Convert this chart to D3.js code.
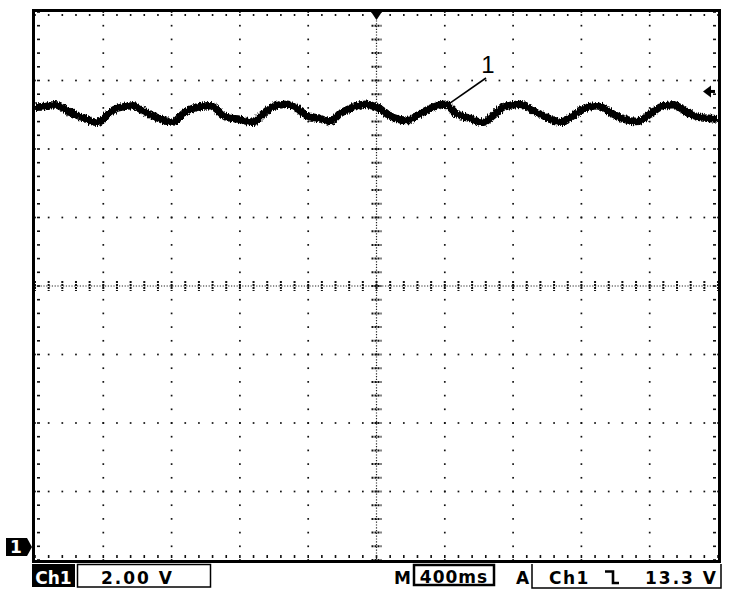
<!DOCTYPE html>
<html>
<head>
<meta charset="utf-8">
<script src="https://cdn.jsdelivr.net/npm/d3@7"></script>
<style>
  html, body { margin: 0; padding: 0; background: #fff; }
  svg { display: block; }
</style>
</head>
<body>
<svg id="chart" width="734" height="598"></svg>
<script>
// ---- Data ----
// Ch1 trace: time in seconds relative to trigger, voltage in volts
const traceTime = [-2.000, -1.940, -1.883, -1.795, -1.719, -1.637, -1.608, -1.561, -1.520, -1.426,
  -1.368, -1.309, -1.192, -1.133, -1.051, -0.975, -0.876, -0.799, -0.729, -0.665,
  -0.606, -0.524, -0.466, -0.407, -0.331, -0.272, -0.214, -0.138, -0.067, 0.003,
  0.097, 0.179, 0.255, 0.331, 0.401, 0.471, 0.548, 0.624, 0.682, 0.741,
  0.840, 0.917, 0.999, 1.075, 1.151, 1.209, 1.291, 1.368, 1.444, 1.526,
  1.602, 1.660, 1.737, 1.819, 1.895, 2.000];
const traceVolts = [12.84, 12.86, 12.91, 12.69, 12.54, 12.40, 12.45, 12.69, 12.81, 12.88,
  12.74, 12.59, 12.40, 12.65, 12.84, 12.88, 12.54, 12.48, 12.40, 12.65,
  12.86, 12.93, 12.80, 12.59, 12.51, 12.42, 12.65, 12.84, 12.93, 12.84,
  12.54, 12.45, 12.65, 12.84, 12.93, 12.64, 12.51, 12.40, 12.59, 12.84,
  12.93, 12.74, 12.54, 12.40, 12.59, 12.79, 12.88, 12.69, 12.50, 12.42,
  12.64, 12.84, 12.91, 12.69, 12.54, 12.50];

// Scope settings
const voltsPerDiv = 2.0;      // V/div
const secPerDiv = 0.4;        // 400 ms/div
const hDivs = 10, vDivs = 8, minorPerDiv = 5;
const groundOffsetDiv = 3.81; // ground marker below centre (div)
const triggerLevel = 13.3;    // V
const traceLabel = "1";

// Status bar texts
const chLabel = "Ch1";
const scaleLabel = "2.00 V";
const timeLabelPrefix = "M";
const timeLabel = "400ms";
const acqLabel = "A";
const trigSource = "Ch1";
const trigLevelLabel = "13.3 V";

// ---- Drawing ----
const svg = d3.select("#chart");
const pL = 35, pR = 718, pT = 12, pB = 560;

const tHalf = secPerDiv * hDivs / 2;
const x = d3.scaleLinear().domain([-tHalf, tHalf]).range([pL, pR]);
const vMin = -(vDivs / 2 - groundOffsetDiv) * voltsPerDiv;   // volts at bottom edge
const vMax = vMin + vDivs * voltsPerDiv;
const y = d3.scaleLinear().domain([vMin, vMax]).range([pB, pT]);

const majorX = d3.range(0, hDivs + 1).map(i => -tHalf + i * secPerDiv);
const minorX = d3.range(0, hDivs * minorPerDiv + 1).map(i => -tHalf + i * secPerDiv / minorPerDiv);
const majorY = d3.range(0, vDivs + 1).map(i => vMin + i * voltsPerDiv);
const minorY = d3.range(0, vDivs * minorPerDiv + 1).map(i => vMin + i * voltsPerDiv / minorPerDiv);

// filter giving the trace a noisy, ragged edge
const defs = svg.append("defs");
const flt = defs.append("filter").attr("id", "noisy")
  .attr("x", "-5%").attr("y", "-50%").attr("width", "110%").attr("height", "200%");
flt.append("feTurbulence").attr("type", "fractalNoise")
  .attr("baseFrequency", "1.2 0.25").attr("numOctaves", 2).attr("seed", 3).attr("result", "n");
flt.append("feDisplacementMap").attr("in", "SourceGraphic").attr("in2", "n")
  .attr("scale", 5).attr("xChannelSelector", "G").attr("yChannelSelector", "R");

const grid = svg.append("g").attr("fill", "#111");
const dot = 1.7;

// dotted graticule lines (dots every minor division)
majorX.slice(1, -1).forEach((t, i) => {
  if (i === hDivs / 2 - 1) return;
  minorY.forEach(v => grid.append("rect")
    .attr("x", x(t) - dot / 2).attr("y", y(v) - dot / 2)
    .attr("width", dot).attr("height", dot));
});
majorY.slice(1, -1).forEach((v, i) => {
  if (i === vDivs / 2 - 1) return;
  minorX.forEach(t => grid.append("rect")
    .attr("x", x(t) - dot / 2).attr("y", y(v) - dot / 2)
    .attr("width", dot).attr("height", dot));
});

// centre cross-hair: dense dotted lines with ticks
const xc = x(0), yc = y(vMin + vDivs / 2 * voltsPerDiv);
svg.append("line").attr("x1", xc).attr("x2", xc).attr("y1", pT).attr("y2", pB)
  .attr("stroke", "#222").attr("stroke-width", 1.2).attr("stroke-dasharray", "1.2,1.6");
svg.append("line").attr("x1", pL).attr("x2", pR).attr("y1", yc).attr("y2", yc)
  .attr("stroke", "#222").attr("stroke-width", 1.2).attr("stroke-dasharray", "1.2,1.6");
minorY.forEach(v => svg.append("line")
  .attr("x1", xc - 5).attr("x2", xc + 5).attr("y1", y(v)).attr("y2", y(v))
  .attr("stroke", "#111").attr("stroke-width", 2).attr("stroke-dasharray", "2,1"));
minorX.forEach(t => svg.append("line")
  .attr("x1", x(t)).attr("x2", x(t)).attr("y1", yc - 5).attr("y2", yc + 5)
  .attr("stroke", "#111").attr("stroke-width", 2).attr("stroke-dasharray", "2,1"));

// border ticks
minorX.forEach(t => {
  grid.append("rect").attr("x", x(t) - 0.8).attr("y", pT + 2).attr("width", 1.6).attr("height", 2);
  grid.append("rect").attr("x", x(t) - 0.8).attr("y", pB - 5).attr("width", 1.6).attr("height", 3);
});
minorY.forEach(v => {
  grid.append("rect").attr("x", pL + 2).attr("y", y(v) - 0.8).attr("width", 3).attr("height", 1.6);
  grid.append("rect").attr("x", pR - 5).attr("y", y(v) - 0.8).attr("width", 3).attr("height", 1.6);
});

// trace
const line = d3.line()
  .x((d, i) => x(traceTime[i]))
  .y(d => y(d))
  .curve(d3.curveMonotoneX);
svg.append("path")
  .attr("d", line(traceVolts))
  .attr("fill", "none").attr("stroke", "#000")
  .attr("stroke-width", 7.5).attr("stroke-linejoin", "round")
  .attr("filter", "url(#noisy)");

// trace label with leader
svg.append("text").attr("x", 488).attr("y", 73)
  .attr("text-anchor", "middle").attr("font-family", "Liberation Sans, Arial, sans-serif")
  .attr("font-size", 24).text(traceLabel);
svg.append("line").attr("x1", 486).attr("y1", 78).attr("x2", x(0.401) + 5).attr("y2", y(12.93) - 1)
  .attr("stroke", "#000").attr("stroke-width", 1.6);

// frame
svg.append("rect").attr("x", pL - 1.5).attr("y", pT - 1.5)
  .attr("width", pR - pL + 3).attr("height", pB - pT + 3)
  .attr("fill", "none").attr("stroke", "#000").attr("stroke-width", 3);

// trigger position marker (top)
svg.append("path")
  .attr("d", `M${xc - 6},${pT - 1} L${xc + 6},${pT - 1} L${xc},${pT + 8} Z`)
  .attr("fill", "#000");

// trigger level arrow (right)
const yt = y(triggerLevel);
svg.append("path")
  .attr("d", `M${pR - 15},${yt} L${pR - 7},${yt - 6} L${pR - 7},${yt + 6} Z`)
  .attr("fill", "#000");
svg.append("line").attr("x1", pR - 8).attr("x2", pR - 3).attr("y1", yt).attr("y2", yt)
  .attr("stroke", "#000").attr("stroke-width", 3);

// ground marker (left)
const yg = y(0);
svg.append("path")
  .attr("d", `M6,${yg - 9} L27,${yg - 9} L32,${yg} L27,${yg + 9} L6,${yg + 9} Z`)
  .attr("fill", "#000");
svg.append("text").attr("x", 16).attr("y", yg + 6.5)
  .attr("text-anchor", "middle").attr("font-family", "DejaVu Sans, sans-serif")
  .attr("font-weight", "bold").attr("font-size", 17).attr("fill", "#fff").text("1");

// ---- status bar ----
const font = "DejaVu Sans, sans-serif";
const base = 584;
svg.append("rect").attr("x", 32).attr("y", 564).attr("width", 43).attr("height", 23).attr("fill", "#000");
svg.append("text").attr("x", 53.5).attr("y", base).attr("text-anchor", "middle")
  .attr("font-family", font).attr("font-weight", "bold").attr("font-size", 17)
  .attr("fill", "#fff").text(chLabel);
svg.append("rect").attr("x", 77.5).attr("y", 564.5).attr("width", 133).attr("height", 22.5)
  .attr("fill", "none").attr("stroke", "#000").attr("stroke-width", 1.5);
svg.append("text").attr("x", 101).attr("y", base)
  .attr("font-family", font).attr("font-weight", "bold").attr("font-size", 17)
  .attr("letter-spacing", 2).text(scaleLabel);

svg.append("text").attr("x", 394).attr("y", base)
  .attr("font-family", font).attr("font-weight", "bold").attr("font-size", 17).text(timeLabelPrefix);
svg.append("rect").attr("x", 414).attr("y", 565).attr("width", 80).attr("height", 20)
  .attr("fill", "none").attr("stroke", "#000").attr("stroke-width", 2.5);
svg.append("text").attr("x", 454).attr("y", base - 1).attr("text-anchor", "middle")
  .attr("font-family", font).attr("font-weight", "bold").attr("font-size", 17)
  .attr("letter-spacing", 1).text(timeLabel);

svg.append("text").attr("x", 516).attr("y", base)
  .attr("font-family", font).attr("font-weight", "bold").attr("font-size", 17).text(acqLabel);
svg.append("path").attr("d", "M532,564 V588 H721 V564")
  .attr("fill", "none").attr("stroke", "#000").attr("stroke-width", 1.5);
svg.append("text").attr("x", 549).attr("y", base)
  .attr("font-family", font).attr("font-weight", "bold").attr("font-size", 17)
  .attr("letter-spacing", 1.5).text(trigSource);
svg.append("path").attr("d", "M605,571.5 H613 V583 H619")
  .attr("fill", "none").attr("stroke", "#000").attr("stroke-width", 2.6);
svg.append("text").attr("x", 718).attr("y", base).attr("text-anchor", "end")
  .attr("font-family", font).attr("font-weight", "bold").attr("font-size", 17)
  .attr("letter-spacing", 2).text(trigLevelLabel);
</script>
</body>
</html>
